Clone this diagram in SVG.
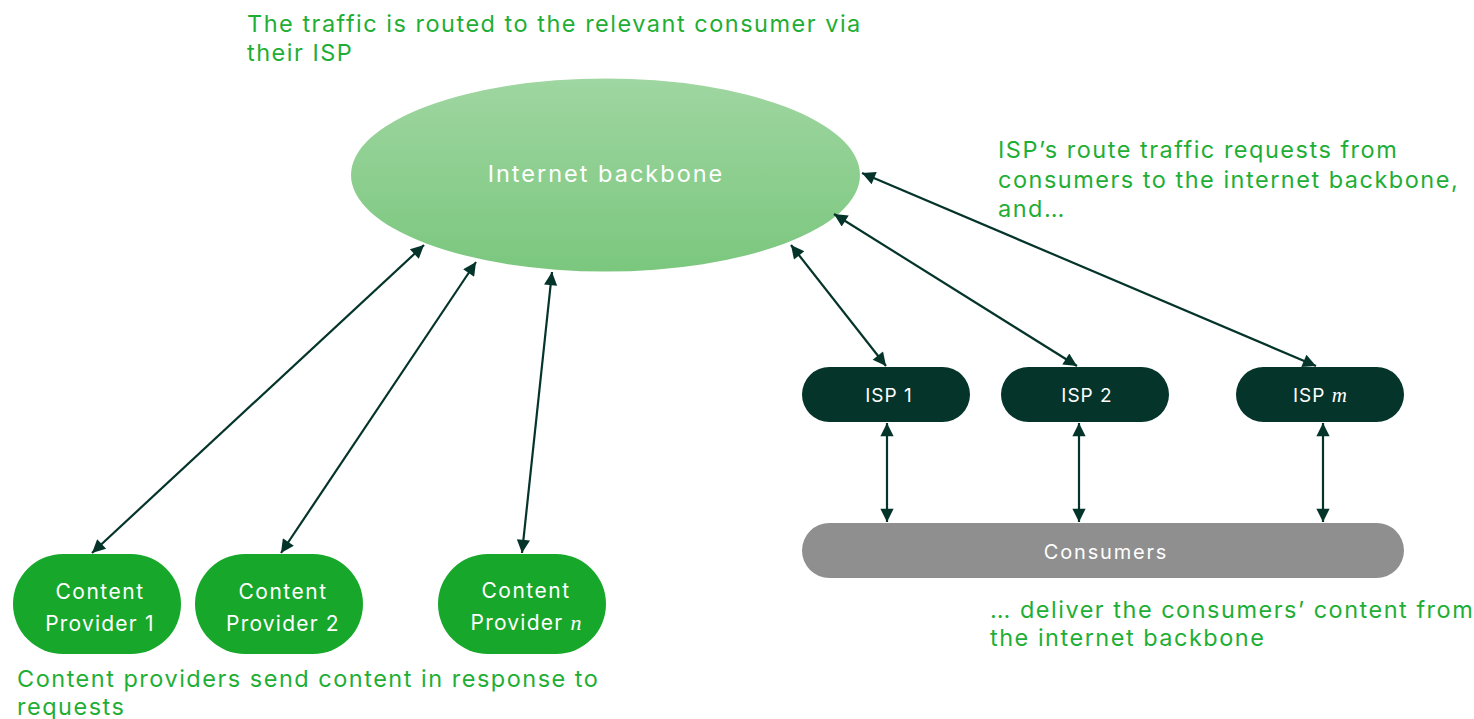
<svg xmlns="http://www.w3.org/2000/svg" width="1474" height="719" viewBox="0 0 1474 719">
<style>
.note{font-family:Inter,"Open Sans","Liberation Sans",sans-serif;font-size:23.5px;letter-spacing:1.5px;fill:#1fae35}
.lbl{font-family:Inter,"Open Sans","Liberation Sans",sans-serif;fill:#ffffff;text-anchor:middle}
.m{font-family:"Liberation Serif","DejaVu Serif",serif;font-style:italic;letter-spacing:0}
.cp{fill:#17a82b}
.isp{fill:#04342a}
.edge{stroke:#04342a;stroke-width:2.2;fill:none;marker-start:url(#ah);marker-end:url(#ah)}
</style>
<defs>
<linearGradient id="bg" x1="0" y1="0" x2="0" y2="1">
<stop offset="0" stop-color="#9fd6a1"/>
<stop offset="1" stop-color="#7bc77e"/>
</linearGradient>
<marker id="ah" viewBox="0 0 10 10" refX="10" refY="5" markerWidth="7" markerHeight="6" orient="auto-start-reverse" markerUnits="strokeWidth">
<path d="M0,0 L10,5 L0,10 z" fill="#04342a"/>
</marker>
</defs>

<g id="backbone">
<ellipse cx="605.5" cy="175" rx="254.5" ry="96.5" fill="url(#bg)"/>
<text class="lbl" x="606" y="182" font-size="23.5" letter-spacing="2">Internet backbone</text>
</g>

<g id="cp1">
<rect class="cp" x="13" y="554" width="168" height="100" rx="50" ry="50"/>
<text class="lbl" x="100" y="599" font-size="21" letter-spacing="1.5">Content</text>
<text class="lbl" x="100" y="631" font-size="21" letter-spacing="1.2">Provider 1</text>
</g>
<g id="cp2">
<rect class="cp" x="195" y="554" width="168" height="100" rx="50" ry="50"/>
<text class="lbl" x="283" y="599" font-size="21" letter-spacing="1.5">Content</text>
<text class="lbl" x="283" y="631" font-size="21" letter-spacing="1.2">Provider 2</text>
</g>
<g id="cpn">
<rect class="cp" x="438" y="554" width="168" height="100" rx="50" ry="50"/>
<text class="lbl" x="526" y="598" font-size="21" letter-spacing="1.5">Content</text>
<text class="lbl" x="526" y="630" font-size="21" letter-spacing="1.2">Provider <tspan class="m" font-size="22">n</tspan></text>
</g>

<g id="isp1">
<rect class="isp" x="802" y="367" width="168" height="55" rx="27.5" ry="27.5"/>
<text class="lbl" x="889" y="402" font-size="19" letter-spacing="1">ISP 1</text>
</g>
<g id="isp2">
<rect class="isp" x="1001" y="367" width="168" height="55" rx="27.5" ry="27.5"/>
<text class="lbl" x="1087" y="402" font-size="19" letter-spacing="1">ISP 2</text>
</g>
<g id="ispm">
<rect class="isp" x="1236" y="367" width="168" height="55" rx="27.5" ry="27.5"/>
<text class="lbl" x="1320" y="402" font-size="19" letter-spacing="1">ISP <tspan class="m" font-size="21">m</tspan></text>
</g>

<g id="consumers">
<rect x="802" y="523" width="602" height="55" rx="27.5" ry="27.5" fill="#8f8f8f"/>
<text class="lbl" x="1106" y="559" font-size="20" letter-spacing="1.8">Consumers</text>
</g>

<g id="connectors">
<line class="edge" x1="92" y1="553" x2="424" y2="245"/>
<line class="edge" x1="281" y1="553" x2="476" y2="262"/>
<line class="edge" x1="522" y1="553" x2="552" y2="272"/>
<line class="edge" x1="886" y1="366" x2="791" y2="245"/>
<line class="edge" x1="1077" y1="366" x2="834" y2="214"/>
<line class="edge" x1="1316" y1="366" x2="862" y2="173"/>
<line class="edge" x1="887" y1="423" x2="887" y2="522"/>
<line class="edge" x1="1079" y1="423" x2="1079" y2="522"/>
<line class="edge" x1="1323" y1="423" x2="1323" y2="522"/>
</g>

<g id="notes">
<text class="note" x="247" y="32">The traffic is routed to the relevant consumer via</text>
<text class="note" x="247" y="61">their ISP</text>
<text class="note" x="998" y="158">ISP’s route traffic requests from</text>
<text class="note" x="998" y="188">consumers to the internet backbone,</text>
<text class="note" x="998" y="217">and…</text>
<text class="note" x="990" y="618">… deliver the consumers’ content from</text>
<text class="note" x="990" y="646">the internet backbone</text>
<text class="note" x="17" y="687">Content providers send content in response to</text>
<text class="note" x="17" y="715">requests</text>
</g>
</svg>
